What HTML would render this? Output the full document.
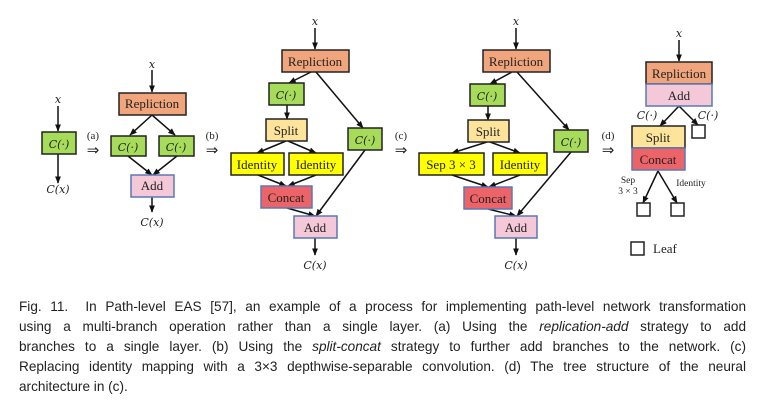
<!DOCTYPE html>
<html><head><meta charset="utf-8"><style>
body{margin:0;width:763px;height:400px;background:#fff;overflow:hidden;position:relative}
svg{position:absolute;left:0;top:0}
.cap{position:absolute;left:19px;top:297px;width:727px;font:13.6px/20px "Liberation Sans",sans-serif;color:#222}
.cap div{text-align:justify;text-align-last:justify;white-space:nowrap}
.cap div.l{text-align-last:left}
</style></head><body>
<svg width="763" height="290" font-family="Liberation Serif,serif" font-size="12">
<defs><marker id="a" viewBox="0 0 10 10" refX="9" refY="5" markerWidth="5" markerHeight="5" orient="auto"><path d="M0,1L10,5L0,9z" fill="#111"/></marker></defs>
<g stroke="#111" stroke-width="1.5" fill="none" marker-end="url(#a)">
<line x1="58" y1="106" x2="58" y2="131"/><line x1="58" y1="154" x2="58" y2="183"/>
<line x1="152" y1="70" x2="152" y2="92"/><line x1="152" y1="115" x2="130" y2="135"/><line x1="152" y1="115" x2="175" y2="135"/>
<line x1="128" y1="156" x2="152" y2="175"/><line x1="177" y1="156" x2="153" y2="175"/><line x1="152" y1="197" x2="152" y2="212"/>
<line x1="315" y1="28" x2="315" y2="49"/><line x1="311" y1="72" x2="289" y2="83"/><line x1="316" y1="72" x2="363" y2="128"/>
<line x1="287" y1="105" x2="287" y2="119"/><line x1="286" y1="141" x2="257" y2="153"/><line x1="288" y1="141" x2="316" y2="153"/>
<line x1="258" y1="175" x2="286" y2="186"/><line x1="316" y1="175" x2="288" y2="186"/>
<line x1="287" y1="208" x2="315" y2="216"/><line x1="365" y1="150" x2="316" y2="216"/><line x1="315" y1="238" x2="315" y2="255"/>
<line x1="516" y1="28" x2="516" y2="49"/><line x1="512" y1="72" x2="490" y2="84"/><line x1="517" y1="72" x2="569" y2="130"/>
<line x1="488" y1="106" x2="488" y2="120"/><line x1="487" y1="142" x2="452" y2="153"/><line x1="490" y1="142" x2="520" y2="153"/>
<line x1="452" y1="175" x2="488" y2="187"/><line x1="520" y1="175" x2="489" y2="187"/>
<line x1="488" y1="209" x2="516" y2="216"/><line x1="571" y1="152" x2="517" y2="216"/><line x1="516" y1="238" x2="516" y2="255"/>
<line x1="679" y1="40" x2="679" y2="61"/><line x1="679" y1="106" x2="660" y2="126"/><line x1="679" y1="106" x2="698" y2="125"/>
<line x1="658" y1="171" x2="643" y2="203"/><line x1="658" y1="171" x2="677" y2="203"/>
</g>
<g stroke-width="1.5">
<rect x="42" y="132" width="34" height="22" fill="#a6dc5a" stroke="#222"/>
<rect x="119" y="93" width="67" height="22" fill="#f0a57c" stroke="#222"/>
<rect x="111" y="136" width="35" height="20" fill="#a6dc5a" stroke="#222"/>
<rect x="159" y="136" width="35" height="20" fill="#a6dc5a" stroke="#222"/>
<rect x="131" y="175" width="43" height="22" fill="#f4c8d6" stroke="#5a78b8"/>
<rect x="282" y="50" width="67" height="22" fill="#f0a57c" stroke="#222"/>
<rect x="269" y="83" width="35" height="22" fill="#a6dc5a" stroke="#222"/>
<rect x="266" y="119" width="41" height="22" fill="#fde49a" stroke="#222"/>
<rect x="231" y="153" width="53" height="22" fill="#ffff00" stroke="#222"/>
<rect x="289" y="153" width="54" height="22" fill="#ffff00" stroke="#222"/>
<rect x="261" y="186" width="51" height="22" fill="#ec6468" stroke="#5a78b8"/>
<rect x="294" y="216" width="43" height="22" fill="#f4c8d6" stroke="#5a78b8"/>
<rect x="348" y="128" width="34" height="22" fill="#a6dc5a" stroke="#222"/>
<rect x="483" y="50" width="67" height="22" fill="#f0a57c" stroke="#222"/>
<rect x="470" y="84" width="35" height="22" fill="#a6dc5a" stroke="#222"/>
<rect x="468" y="120" width="41" height="22" fill="#fde49a" stroke="#222"/>
<rect x="419" y="153" width="65" height="22" fill="#ffff00" stroke="#222"/>
<rect x="493" y="153" width="54" height="22" fill="#ffff00" stroke="#222"/>
<rect x="464" y="187" width="48" height="22" fill="#ec6468" stroke="#5a78b8"/>
<rect x="495" y="216" width="42" height="22" fill="#f4c8d6" stroke="#5a78b8"/>
<rect x="554" y="130" width="34" height="22" fill="#a6dc5a" stroke="#222"/>
<rect x="646" y="62" width="66" height="22" fill="#f0a57c" stroke="#222"/>
<rect x="646" y="84" width="66" height="22" fill="#f4c8d6" stroke="#5a78b8"/>
<rect x="632" y="126" width="53" height="22" fill="#fde49a" stroke="#222"/>
<rect x="632" y="148" width="53" height="22" fill="#ec6468" stroke="#5a78b8"/>
<rect x="692" y="125" width="13" height="13" fill="#fff" stroke="#222"/>
<rect x="637" y="203" width="13" height="13" fill="#fff" stroke="#222"/>
<rect x="671" y="203" width="13" height="13" fill="#fff" stroke="#222"/>
<rect x="631" y="242" width="13" height="13" fill="#fff" stroke="#222"/>
</g>
<g text-anchor="middle" fill="#222" font-size="13">
<text x="152" y="108">Repliction</text><text x="152" y="190">Add</text>
<text x="315" y="66">Repliction</text><text x="286" y="135">Split</text><text x="257" y="169">Identity</text><text x="316" y="169">Identity</text><text x="286" y="202">Concat</text><text x="315" y="232">Add</text>
<text x="516" y="66">Repliction</text><text x="488" y="136">Split</text><text x="451" y="169">Sep 3 × 3</text><text x="520" y="169">Identity</text><text x="488" y="203">Concat</text><text x="516" y="232">Add</text>
<text x="679" y="78">Repliction</text><text x="679" y="100">Add</text><text x="658" y="142">Split</text><text x="658" y="164">Concat</text>
<text x="653" y="253" text-anchor="start">Leaf</text>
<g font-size="9.5"><text x="628" y="183">Sep</text><text x="628" y="194">3 × 3</text><text x="691" y="186">Identity</text></g>
<g font-size="11"><text x="93" y="139">(a)</text><text x="212" y="139">(b)</text><text x="401" y="139">(c)</text><text x="608" y="139">(d)</text></g>
<g font-size="15"><text x="93" y="155">⇒</text><text x="212" y="155">⇒</text><text x="401" y="155">⇒</text><text x="608" y="155">⇒</text></g>
<g font-style="italic" font-family="DejaVu Serif,serif" font-size="11">
<text x="58" y="103">x</text><text x="152" y="68">x</text><text x="315" y="25">x</text><text x="516" y="25">x</text><text x="679" y="37">x</text>
<text x="58" y="193">C(x)</text><text x="152" y="226">C(x)</text><text x="315" y="269">C(x)</text><text x="516" y="269">C(x)</text>
<text x="59" y="148">C(·)</text><text x="128" y="151">C(·)</text><text x="176" y="151">C(·)</text>
<text x="286" y="99">C(·)</text><text x="365" y="144">C(·)</text>
<text x="487" y="100">C(·)</text><text x="571" y="146">C(·)</text>
<text x="647" y="119">C(·)</text><text x="708" y="119">C(·)</text>
</g>
</g>
</svg>
<div class="cap">
<div>Fig. 11.&nbsp; In Path-level EAS [57], an example of a process for implementing path-level network transformation</div>
<div>using a multi-branch operation rather than a single layer. (a) Using the <i>replication-add</i> strategy to add</div>
<div>branches to a single layer. (b) Using the <i>split-concat</i> strategy to further add branches to the network. (c)</div>
<div>Replacing identity mapping with a 3×3 depthwise-separable convolution. (d) The tree structure of the neural</div>
<div class="l">architecture in (c).</div>
</div>
</body></html>
